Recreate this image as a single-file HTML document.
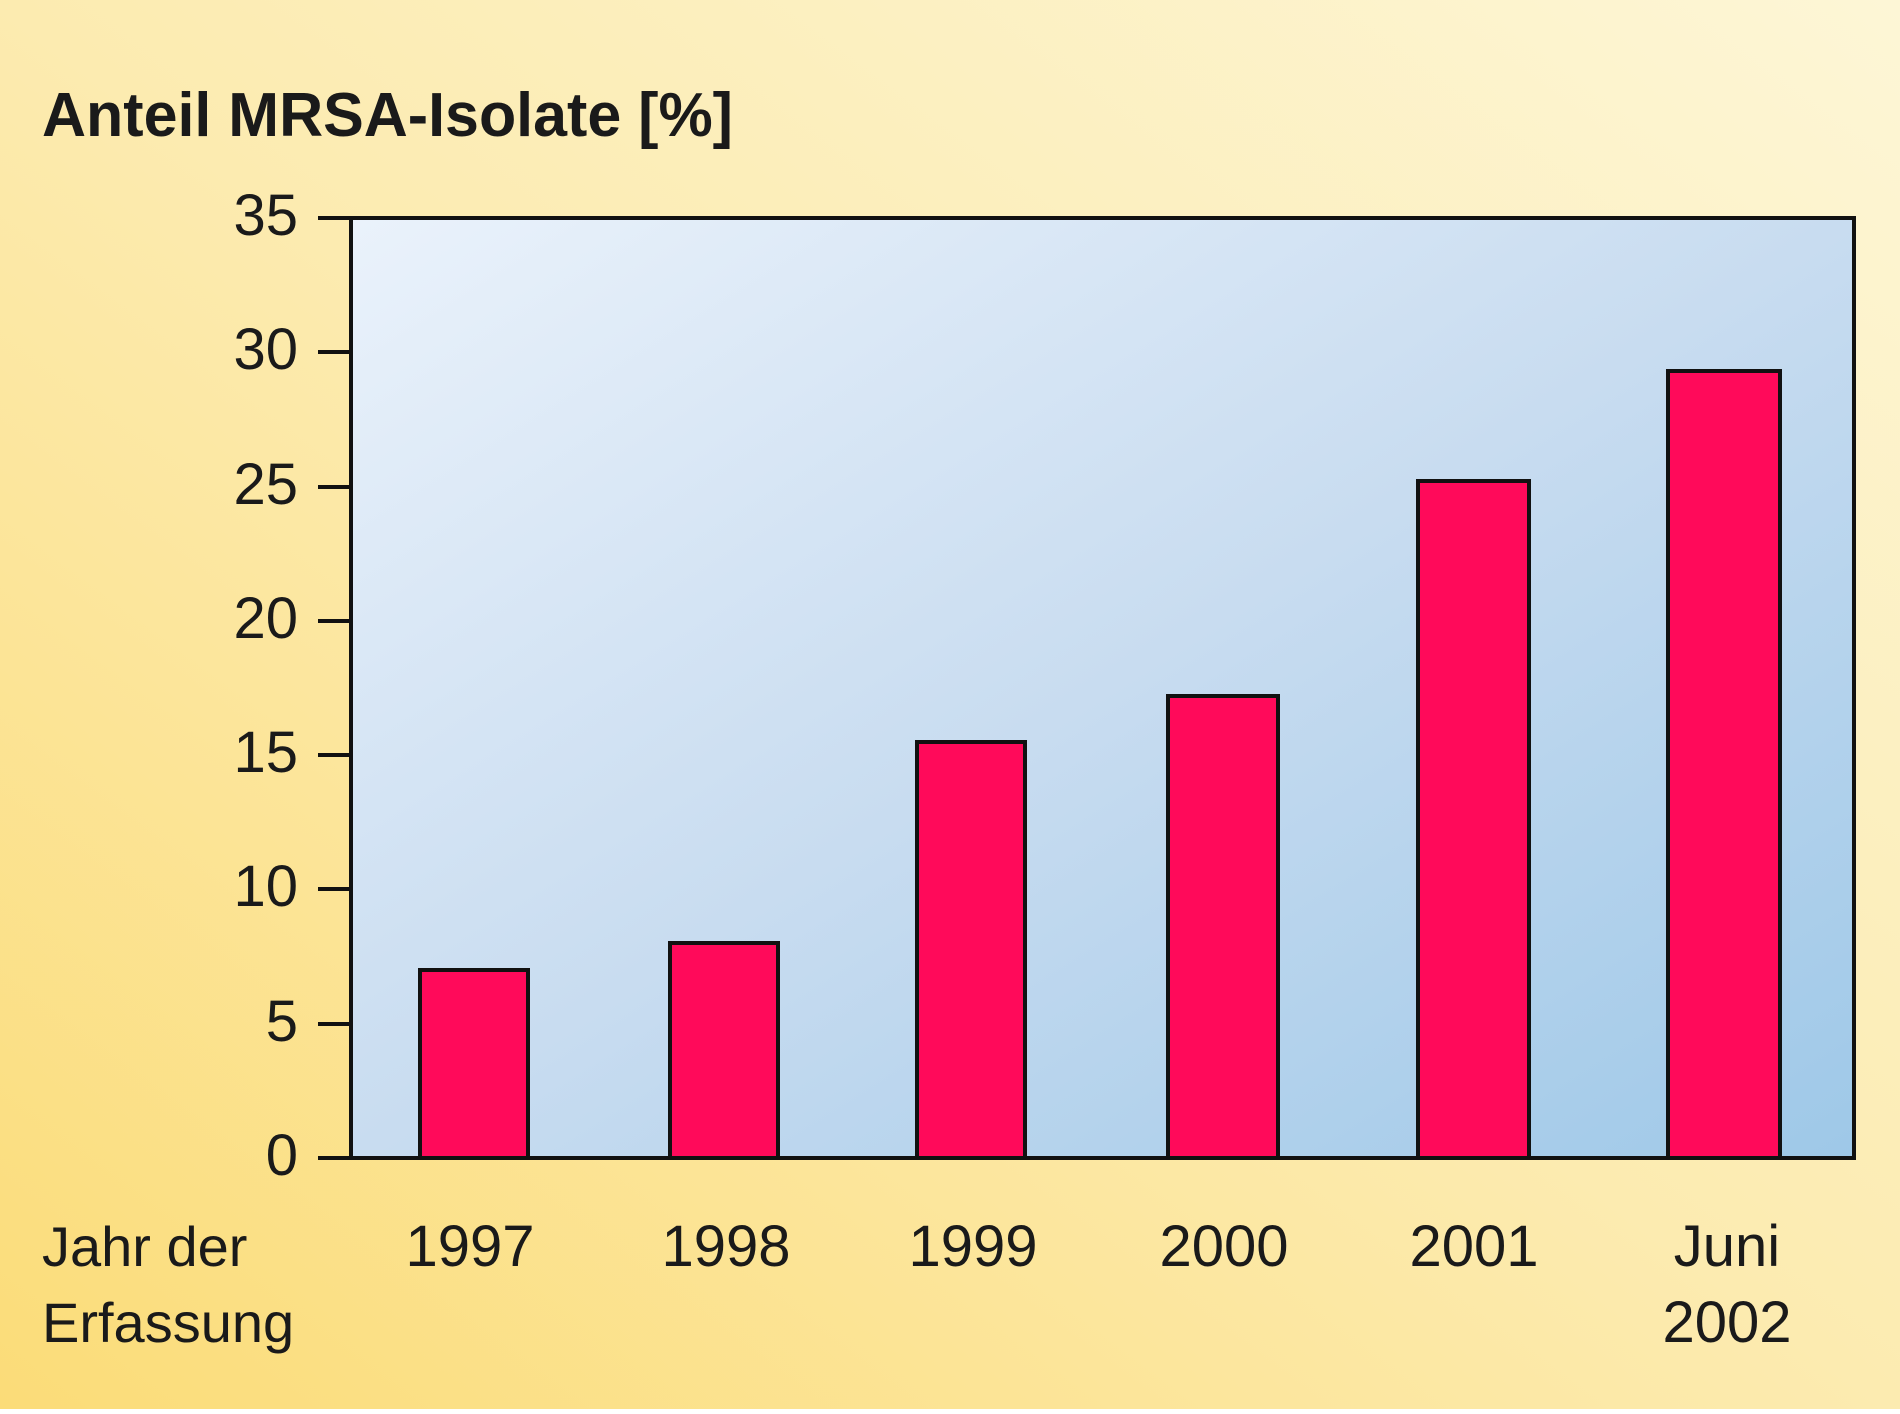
<!DOCTYPE html>
<html><head><meta charset="utf-8"><style>html,body{margin:0;padding:0}body{width:1900px;height:1409px;overflow:hidden}</style></head>
<body>
<svg width="1900" height="1409" viewBox="0 0 1900 1409" xmlns="http://www.w3.org/2000/svg" font-family="Liberation Sans, sans-serif">
<defs>
<linearGradient id="bg" x1="1" y1="0" x2="0" y2="1">
<stop offset="0" stop-color="#fdf6d6"/><stop offset="0.5" stop-color="#fcebb0"/><stop offset="1" stop-color="#fbdc78"/>
</linearGradient>
<linearGradient id="pl" x1="0" y1="0" x2="1" y2="1">
<stop offset="0" stop-color="#eaf2fb"/><stop offset="0.5" stop-color="#c8dcf0"/><stop offset="1" stop-color="#9ec8e8"/>
</linearGradient>
</defs>
<rect width="1900" height="1409" fill="url(#bg)"/>
<rect x="351" y="218" width="1503" height="940" fill="url(#pl)" stroke="#111" stroke-width="4"/>
<g stroke="#111" stroke-width="4">
<line x1="318" y1="218" x2="351" y2="218"/><line x1="318" y1="352" x2="351" y2="352"/><line x1="318" y1="487" x2="351" y2="487"/><line x1="318" y1="621" x2="351" y2="621"/><line x1="318" y1="755" x2="351" y2="755"/><line x1="318" y1="889" x2="351" y2="889"/><line x1="318" y1="1024" x2="351" y2="1024"/><line x1="318" y1="1158" x2="351" y2="1158"/>
</g>
<g fill="#ff0a5a" stroke="#111" stroke-width="4">
<rect x="420" y="970" width="108" height="188"/>
<rect x="670" y="943" width="108" height="215"/>
<rect x="917" y="742" width="108" height="416"/>
<rect x="1168" y="696" width="110" height="462"/>
<rect x="1418" y="481" width="111" height="677"/>
<rect x="1668" y="371" width="112" height="787"/>
</g>
<text x="42" y="136" font-size="62" font-weight="bold" fill="#1a1a1a" textLength="691" lengthAdjust="spacingAndGlyphs">Anteil MRSA-Isolate [%]</text>
<g font-size="58" fill="#1a1a1a" text-anchor="end">
<text x="298" y="235">35</text><text x="298" y="369">30</text><text x="298" y="504">25</text><text x="298" y="638">20</text><text x="298" y="772">15</text><text x="298" y="906">10</text><text x="298" y="1041">5</text><text x="298" y="1175">0</text>
</g>
<g font-size="58" fill="#1a1a1a" text-anchor="middle">
<text x="470" y="1266">1997</text><text x="726" y="1266">1998</text><text x="973" y="1266">1999</text><text x="1224" y="1266">2000</text><text x="1474" y="1266">2001</text><text x="1727" y="1266">Juni</text><text x="1727" y="1342">2002</text>
</g>
<g font-size="56" fill="#1a1a1a">
<text x="42" y="1266">Jahr der</text><text x="42" y="1342">Erfassung</text>
</g>
</svg>
</body></html>
